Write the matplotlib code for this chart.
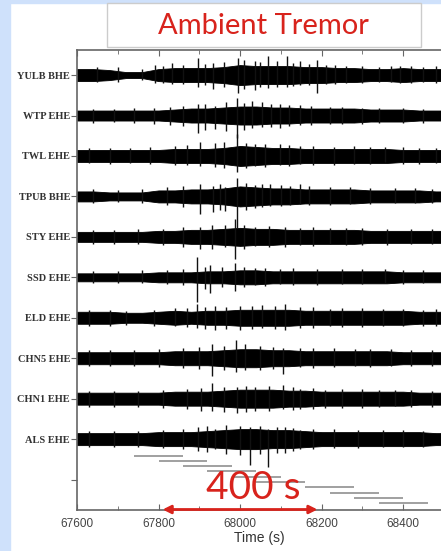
import numpy as np
import matplotlib.pyplot as plt
from matplotlib.patches import Rectangle

# station order from bottom (0) to top (9)
stations = ['ALS EHE', 'CHN1 EHE', 'CHN5 EHE', 'ELD EHE', 'SSD EHE',
            'STY EHE', 'TPUB BHE', 'TWL EHE', 'WTP EHE', 'YULB BHE']

env_t = [67600, 67640, 67680, 67720, 67760, 67800, 67840, 67880, 67920, 67960,
         68000, 68040, 68080, 68120, 68160, 68200, 68240, 68280, 68320, 68360,
         68400, 68440, 68480, 68520]

# solid band half-width (picture px, one trace step ~ 40.4 px)
als_env = [6, 6, 6, 6, 6, 7, 7, 7, 8, 9, 10, 10, 9, 9, 8, 7, 7, 7, 7, 7, 7, 7, 6, 6]
chn1_env = [6, 6, 6, 6, 6, 6, 7, 7, 7, 8, 9, 9, 9, 8, 8, 7, 7, 7, 7, 7, 7, 6, 6, 6]
chn5_env = [6, 6, 6, 6, 6, 6, 7, 7, 7, 8, 9, 9, 8, 8, 7, 7, 7, 7, 7, 7, 6, 6, 6, 6]
eld_env = [6, 6, 6, 5, 5, 6, 7, 6, 7, 7, 8, 8, 8, 8, 7, 7, 7, 7, 7, 7, 7, 6, 6, 6]
ssd_env = [4, 4, 4, 4, 4, 5, 5, 5, 6, 6, 7, 7, 6, 6, 6, 6, 6, 6, 6, 6, 5, 5, 5, 5]
sty_env = [5, 5, 5, 5, 5, 6, 6, 7, 7, 8, 9, 8, 8, 7, 7, 7, 7, 7, 6, 6, 6, 6, 6, 6]
tpub_env = [5, 5, 4, 4, 4, 6, 6, 7, 7, 8, 10, 9, 8, 8, 7, 7, 7, 7, 6, 6, 6, 6, 5, 5]
twl_env = [6, 6, 6, 6, 6, 6, 7, 7, 7, 8, 10, 9, 8, 8, 7, 7, 7, 7, 7, 7, 6, 6, 6, 6]
wtp_env = [5, 5, 5, 5, 5, 5, 6, 7, 7, 8, 9, 9, 8, 8, 7, 7, 7, 7, 6, 6, 6, 5, 5, 5]
yulb_env = [6, 6, 5, 3, 3, 6, 7, 7, 7, 8, 10, 9, 9, 9, 8, 8, 7, 7, 6, 6, 7, 6, 6, 6]

# spikes sticking out of the band: (time, up px, down px)
als_spk = [(67630, 8, 8), (67690, 8, 8), (67750, 8, 8), (67810, 9, 9), (67860, 10, 10),
           (67897, 12, 12), (67920, 13, 13), (67939, 10, 10), (67965, 14, 15),
           (68000, 13, 16), (68025, 12, 26), (68050, 13, 15), (68069, 10, 28),
           (68090, 12, 14), (68110, 12, 14), (68130, 11, 12), (68147, 9, 10),
           (68180, 10, 10), (68230, 10, 9), (68290, 9, 9), (68350, 9, 8),
           (68400, 9, 8), (68450, 8, 8)]
chn1_spk = [(67630, 8, 8), (67690, 8, 8), (67750, 8, 8), (67810, 9, 9), (67870, 10, 10),
            (67905, 11, 12), (67931, 16, 12), (67960, 12, 13), (67993, 12, 14),
            (68015, 13, 13), (68037, 12, 12), (68070, 13, 12), (68106, 14, 10),
            (68130, 12, 11), (68147, 10, 10), (68180, 11, 10), (68209, 9, 9),
            (68250, 10, 9), (68300, 10, 9), (68340, 9, 8), (68380, 9, 7),
            (68420, 9, 8), (68470, 8, 8)]
chn5_spk = [(67630, 8, 8), (67680, 8, 8), (67740, 8, 8), (67800, 9, 9), (67860, 10, 10),
            (67900, 11, 11), (67931, 14, 18), (67960, 12, 12), (67990, 18, 14),
            (68012, 14, 12), (68050, 12, 12), (68080, 11, 11), (68106, 10, 16),
            (68147, 10, 9), (68180, 10, 10), (68230, 10, 9), (68282, 9, 8),
            (68320, 9, 9), (68370, 9, 8), (68420, 8, 8), (68470, 8, 8)]
eld_spk = [(67630, 8, 8), (67680, 8, 8), (67720, 7, 7), (67790, 8, 8), (67840, 10, 8),
           (67870, 10, 9), (67894, 14, 10), (67915, 11, 11), (67939, 12, 12),
           (67965, 11, 11), (68000, 12, 12), (68030, 12, 11), (68054, 13, 10),
           (68085, 12, 11), (68110, 14, 12), (68147, 11, 10), (68180, 11, 10),
           (68221, 9, 8), (68250, 10, 9), (68300, 10, 9), (68350, 9, 8),
           (68400, 9, 8), (68450, 8, 8), (68480, 9, 8)]
ssd_spk = [(67640, 6, 6), (67700, 6, 6), (67760, 7, 6), (67820, 7, 7), (67860, 8, 8),
           (67894, 20, 25), (67915, 10, 12), (67926, 12, 16), (67956, 10, 10),
           (67988, 14, 14), (68010, 10, 10), (68037, 9, 8), (68060, 9, 9),
           (68098, 8, 7), (68130, 9, 8), (68190, 8, 8), (68250, 8, 7),
           (68300, 8, 7), (68356, 8, 6), (68400, 7, 7), (68450, 7, 6)]
sty_spk = [(67640, 7, 7), (67690, 7, 7), (67750, 8, 7), (67810, 8, 8), (67860, 10, 10),
           (67902, 10, 12), (67930, 12, 12), (67963, 12, 10), (67988, 18, 22),
           (68010, 12, 12), (68037, 10, 9), (68070, 11, 10), (68110, 10, 10),
           (68147, 9, 8), (68180, 10, 9), (68221, 9, 7), (68260, 9, 8),
           (68300, 9, 8), (68360, 8, 8), (68420, 8, 7), (68470, 8, 7)]
tpub_spk = [(67640, 7, 7), (67700, 6, 6), (67760, 7, 7), (67820, 9, 9), (67860, 10, 11),
            (67902, 12, 18), (67934, 10, 16), (67950, 12, 14), (67963, 9, 15),
            (67993, 18, 32), (68015, 13, 14), (68037, 11, 12), (68055, 12, 11),
            (68074, 12, 10), (68100, 11, 10), (68123, 10, 9), (68147, 12, 8),
            (68170, 10, 9), (68220, 9, 9), (68270, 9, 8), (68320, 8, 8),
            (68380, 8, 7), (68430, 8, 7), (68470, 7, 7)]
twl_spk = [(67630, 8, 7), (67680, 8, 8), (67730, 8, 7), (67780, 9, 8), (67840, 10, 9),
           (67870, 11, 9), (67902, 14, 10), (67939, 13, 11), (67960, 14, 12),
           (67993, 22, 16), (68015, 13, 12), (68037, 12, 10), (68060, 12, 11),
           (68098, 12, 9), (68120, 11, 10), (68147, 10, 8), (68180, 10, 9),
           (68230, 9, 9), (68280, 10, 8), (68320, 9, 8), (68356, 9, 6),
           (68400, 9, 8), (68440, 8, 8), (68480, 8, 7)]
wtp_spk = [(67640, 7, 7), (67690, 7, 6), (67740, 8, 7), (67790, 8, 8), (67828, 9, 9),
           (67860, 10, 10), (67897, 12, 17), (67915, 12, 14), (67939, 10, 13),
           (67965, 14, 15), (67993, 18, 22), (68010, 13, 14), (68029, 15, 12),
           (68054, 14, 11), (68075, 12, 11), (68098, 12, 12), (68120, 11, 10),
           (68147, 11, 9), (68175, 10, 9), (68221, 9, 8), (68250, 9, 8),
           (68300, 8, 8), (68340, 8, 7), (68400, 8, 7), (68450, 7, 7)]
yulb_spk = [(67650, 8, 7), (67700, 8, 7), (67760, 6, 5), (67791, 10, 8), (67810, 9, 8),
            (67833, 12, 9), (67860, 10, 9), (67897, 17, 12), (67915, 11, 10),
            (67934, 12, 14), (67960, 13, 12), (67995, 17, 18), (68010, 15, 14),
            (68037, 14, 15), (68050, 13, 12), (68069, 19, 13), (68090, 14, 12),
            (68115, 19, 12), (68130, 12, 11), (68147, 14, 10), (68170, 11, 10),
            (68189, 15, 18), (68210, 10, 9), (68233, 10, 9), (68260, 9, 8),
            (68300, 9, 8), (68340, 8, 7), (68370, 9, 7), (68393, 9, 8),
            (68420, 9, 8), (68450, 8, 7), (68480, 9, 8)]

# staircase of 120 s windows
win_start = [67740, 67800, 67860, 67920, 67980, 68040, 68160, 68220, 68280, 68340]
win_end = [67860, 67920, 67980, 68040, 68100, 68160, 68280, 68340, 68400, 68460]
win_y = [-0.41, -0.54, -0.67, -0.80, -0.93, -1.06, -1.19, -1.32, -1.45, -1.58]

envs = [als_env, chn1_env, chn5_env, eld_env, ssd_env,
        sty_env, tpub_env, twl_env, wtp_env, yulb_env]
spks = [als_spk, chn1_spk, chn5_spk, eld_spk, ssd_spk,
        sty_spk, tpub_spk, twl_spk, wtp_spk, yulb_spk]

PX = 1 / 40.4
red = '#d8231c'

fig = plt.figure(figsize=(4.41, 5.51), dpi=100)
fig.patch.set_facecolor('white')
# light blue frame on the left and top
fig.patches.append(Rectangle((0, 0), 10 / 441, 1, transform=fig.transFigure,
                             color='#cfe1fb', zorder=0))
fig.patches.append(Rectangle((0, 1 - 3 / 551), 1, 3 / 551, transform=fig.transFigure,
                             color='#cfe1fb', zorder=0))

ax = fig.add_axes([77 / 441, 41.5 / 551, 364 / 441, 459.5 / 551])

for i, (env, spk) in enumerate(zip(envs, spks)):
    e = np.array(env) * PX
    ax.fill_between(env_t, i - e, i + e, color='black', lw=0.6)
    t = [s[0] for s in spk]
    up = [i + s[1] * PX for s in spk]
    dn = [i - s[2] * PX for s in spk]
    ax.vlines(t, dn, up, color='#111111', lw=1.0)

ax.hlines(win_y, win_start, win_end, color='#999999', lw=1.3)

ax.set_xlim(67600, 68493)
ax.set_ylim(-1.74, 9.62)

ax.set_xticks([67600, 67800, 68000, 68200, 68400])
ax.set_xticks([67700, 67900, 68100, 68300], minor=True)
ax.set_xticklabels(['67600', '67800', '68000', '68200', '68400'],
                   fontsize=8.5, color='#444444', family='Liberation Sans')
ax.tick_params(axis='x', which='both', top=True, direction='in',
               color='#666666', pad=6)
ax.tick_params(axis='x', which='major', length=4)
ax.tick_params(axis='x', which='minor', length=3)

ax.set_yticks(list(range(10)) + [-1])
ax.set_yticklabels(stations + [''], fontsize=7.5, color='#333333',
                   family='Liberation Serif', fontweight='bold')
ax.tick_params(axis='y', direction='out', length=4, color='#666666', pad=1)

for side in ['left', 'top', 'bottom']:
    ax.spines[side].set_color('#666666')
    ax.spines[side].set_linewidth(1.2)
ax.spines['right'].set_visible(False)

ax.set_xlabel('Time (s)', fontsize=10, color='#333333',
              family='Liberation Sans', labelpad=1)

ax.annotate('', xy=(67810, -1.74), xytext=(68190, -1.74),
            arrowprops=dict(arrowstyle='<|-|>', color=red, lw=2,
                            mutation_scale=12, shrinkA=0, shrinkB=0),
            annotation_clip=False, zorder=5)
ax.text(68032, -1.22, '400 s', fontsize=28, color=red, ha='center',
        va='center', family='Lato', zorder=6)

# title box
fig.patches.append(Rectangle((107 / 441, 1 - 47 / 551), 314 / 441, 44 / 551,
                             transform=fig.transFigure, facecolor='white',
                             edgecolor='#cccccc', lw=1, zorder=1))
fig.text(263 / 441, 1 - 26 / 551, 'Ambient Tremor', fontsize=21, color=red,
         ha='center', va='center', family='Lato', zorder=2)

fig.savefig('out.png', dpi=100)
